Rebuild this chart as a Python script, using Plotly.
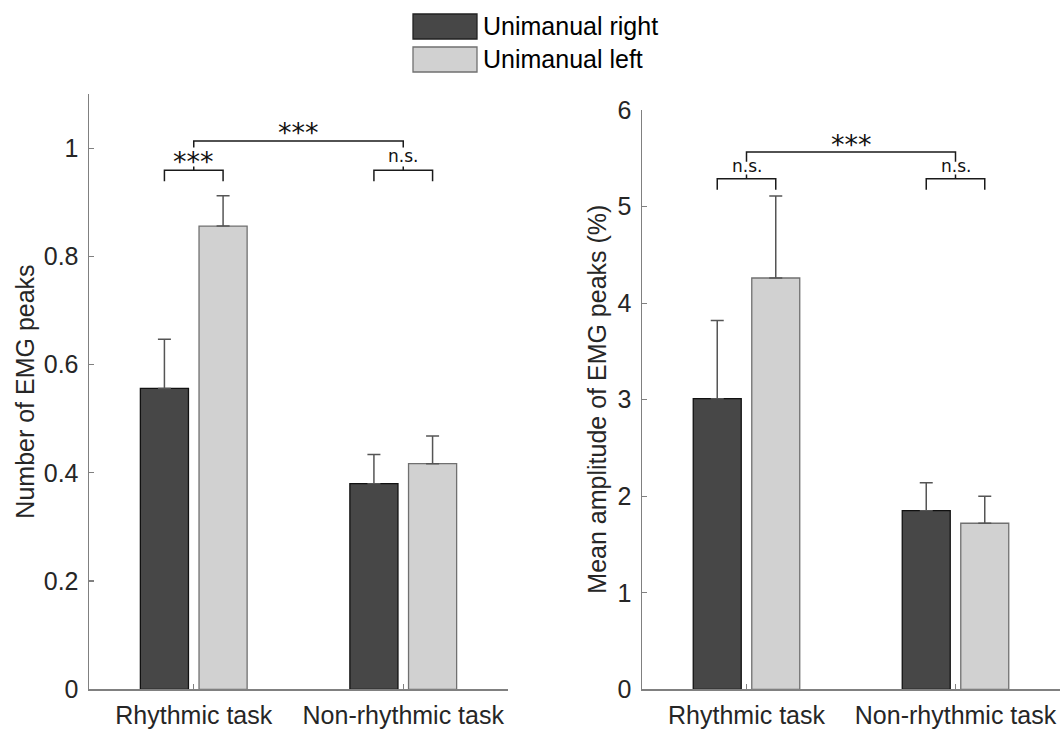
import plotly.graph_objects as go

# ---------------- data ----------------
categories = ["Rhythmic task", "Non-rhythmic task"]
series_names = ["Unimanual right", "Unimanual left"]

count_right = [0.556, 0.380]
count_right_err = [0.091, 0.054]
count_left = [0.856, 0.417]
count_left_err = [0.056, 0.051]

amp_right = [3.01, 1.85]
amp_right_err = [0.81, 0.29]
amp_left = [4.26, 1.72]
amp_left_err = [0.85, 0.28]

left_yticks = [0, 0.2, 0.4, 0.6, 0.8, 1]
left_yticktext = ["0", "0.2", "0.4", "0.6", "0.8", "1"]
right_yticks = [0, 1, 2, 3, 4, 5, 6]
right_yticktext = ["0", "1", "2", "3", "4", "5", "6"]

# significance labels: (within rhythmic, between tasks, within non-rhythmic)
left_sig = ["***", "***", "n.s."]
right_sig = ["n.s.", "***", "n.s."]

# ---------------- style ----------------
DARK = "#474747"
LIGHT = "#d1d1d1"
AXIS = "#808080"
TXT = "#262626"
FONT = "Liberation Sans, Arial, sans-serif"
SIGFONT = "DejaVu Sans, sans-serif"
FS = 25

xpos = [1, 2]

# body margin is removed by post_script, so the figure fills the window
OFF = 0
W, H = 1060, 730

def px(x):
    return (x - OFF) / W

def py(y):
    return 1 - (y - OFF) / H

fig = go.Figure()

def add_bars(vals_r, err_r, vals_l, err_l, xa, ya):
    fig.add_trace(go.Bar(
        x=xpos, y=vals_r, name=series_names[0], xaxis=xa, yaxis=ya,
        marker=dict(color=DARK, line=dict(color="#111111", width=1.3)),
        error_y=dict(type="data", array=err_r, arrayminus=[0, 0], symmetric=False,
                     color="#555555", thickness=1.5, width=6.5),
        showlegend=False))
    fig.add_trace(go.Bar(
        x=xpos, y=vals_l, name=series_names[1], xaxis=xa, yaxis=ya,
        marker=dict(color=LIGHT, line=dict(color="#707070", width=1.3)),
        error_y=dict(type="data", array=err_l, arrayminus=[0, 0], symmetric=False,
                     color="#555555", thickness=1.5, width=6.5),
        showlegend=False))

add_bars(count_right, count_right_err, count_left, count_left_err, "x", "y")
add_bars(amp_right, amp_right_err, amp_left, amp_left_err, "x2", "y2")

ybot = py(689.3)

def xaxis_cfg(domain, anchor):
    return dict(domain=domain, anchor=anchor, range=[0.5, 2.5],
                tickvals=xpos, ticktext=categories,
                ticks="inside", ticklen=5, tickwidth=1.2, tickcolor=AXIS,
                showline=True, linecolor=AXIS, linewidth=1.5,
                showgrid=False, zeroline=False, ticklabelstandoff=3,
                tickfont=dict(family=FONT, size=FS, color=TXT),
                automargin=False, fixedrange=True)

def yaxis_cfg(domain, anchor, rng, tv, tt):
    return dict(domain=domain, anchor=anchor, range=rng,
                tickvals=tv, ticktext=tt,
                ticks="inside", ticklen=5, tickwidth=1.2, tickcolor=AXIS,
                showline=True, linecolor=AXIS, linewidth=1.5,
                showgrid=False, zeroline=False, ticklabelstandoff=4,
                tickfont=dict(family=FONT, size=FS, color=TXT),
                automargin=False, fixedrange=True)

ldom_y = [ybot, py(94)]
rdom_y = [ybot, py(110)]

fig.update_layout(
    width=W, height=H,
    margin=dict(l=0, r=0, t=0, b=0),
    paper_bgcolor="white", plot_bgcolor="white",
    barmode="group", bargap=0.44, bargroupgap=0.18,
    hovermode=False,
    xaxis=xaxis_cfg([px(89), px(508)], "y"),
    yaxis=yaxis_cfg(ldom_y, "x", [0, 1.1], left_yticks, left_yticktext),
    xaxis2=xaxis_cfg([px(642), 1.0], "y2"),
    yaxis2=yaxis_cfg(rdom_y, "x2", [0, 6], right_yticks, right_yticktext),
)

shapes = []
annotations = []

def bracket(xref, yref, x0, x1, y, leg, tick_up=None, color="#1a1a1a"):
    path = f"M {x0},{y - leg} L {x0},{y} L {x1},{y} L {x1},{y - leg}"
    shapes.append(dict(type="path", path=path, xref=xref, yref=yref,
                       line=dict(color=color, width=1.5)))
    if tick_up is not None:
        xm = (x0 + x1) / 2
        shapes.append(dict(type="line", x0=xm, x1=xm, y0=y, y1=y + tick_up,
                           xref=xref, yref=yref, line=dict(color=color, width=1.5)))

def sig_text(xref, yref, x, y, text):
    size = 27 if text.startswith("*") else 17
    annotations.append(dict(x=x, y=y, xref=xref, yref=yref, text=text,
                            showarrow=False, xanchor="center", yanchor="middle",
                            font=dict(family=SIGFONT, size=size, color="#111111")))

# left panel brackets
bracket("x", "y", 0.86, 1.14, 0.959, 0.020, tick_up=0.007)
bracket("x", "y", 1.86, 2.14, 0.959, 0.020, tick_up=0.007)
bracket("x", "y", 1.0, 2.0, 1.013, 0.012)
sig_text("x", "y", 1.0, 0.975, left_sig[0])
sig_text("x", "y", 1.5, 1.028, left_sig[1])
sig_text("x", "y", 2.0, 0.985, left_sig[2])

# right panel brackets
bracket("x2", "y2", 0.86, 1.14, 5.287, 0.113, tick_up=0.045)
bracket("x2", "y2", 1.86, 2.14, 5.287, 0.113, tick_up=0.045)
bracket("x2", "y2", 1.0, 2.0, 5.565, 0.10)
sig_text("x2", "y2", 1.0, 5.42, right_sig[0])
sig_text("x2", "y2", 1.5, 5.64, right_sig[1])
sig_text("x2", "y2", 2.0, 5.42, right_sig[2])

# y titles
annotations.append(dict(x=px(25), y=(ldom_y[0] + ldom_y[1]) / 2, xref="paper", yref="paper",
                        text="Number of EMG peaks", textangle=-90, showarrow=False,
                        xanchor="center", yanchor="middle",
                        font=dict(family=FONT, size=FS, color=TXT)))
annotations.append(dict(x=px(597), y=(rdom_y[0] + rdom_y[1]) / 2, xref="paper", yref="paper",
                        text="Mean amplitude of EMG peaks (%)", textangle=-90, showarrow=False,
                        xanchor="center", yanchor="middle",
                        font=dict(family=FONT, size=FS, color=TXT)))

# legend (drawn manually)
leg_items = [(series_names[0], DARK, "#222222", 14, 39),
             (series_names[1], LIGHT, "#707070", 47, 72)]
for name, fill, edge, top, bot in leg_items:
    shapes.append(dict(type="rect", xref="paper", yref="paper",
                       x0=px(413), x1=px(477), y0=py(bot), y1=py(top),
                       fillcolor=fill, line=dict(color=edge, width=1.3)))
    annotations.append(dict(x=px(481), y=py((top + bot) / 2), xref="paper", yref="paper",
                            text=name, showarrow=False, xanchor="left", yanchor="middle",
                            font=dict(family=FONT, size=FS, color="#000000")))

fig.update_layout(shapes=shapes, annotations=annotations)

fig.write_html(
    "out.html",
    config={"displayModeBar": False, "staticPlot": True},
    post_script="document.body.style.margin='0';document.body.style.overflow='hidden';"
                "document.documentElement.style.overflow='hidden';",
)
